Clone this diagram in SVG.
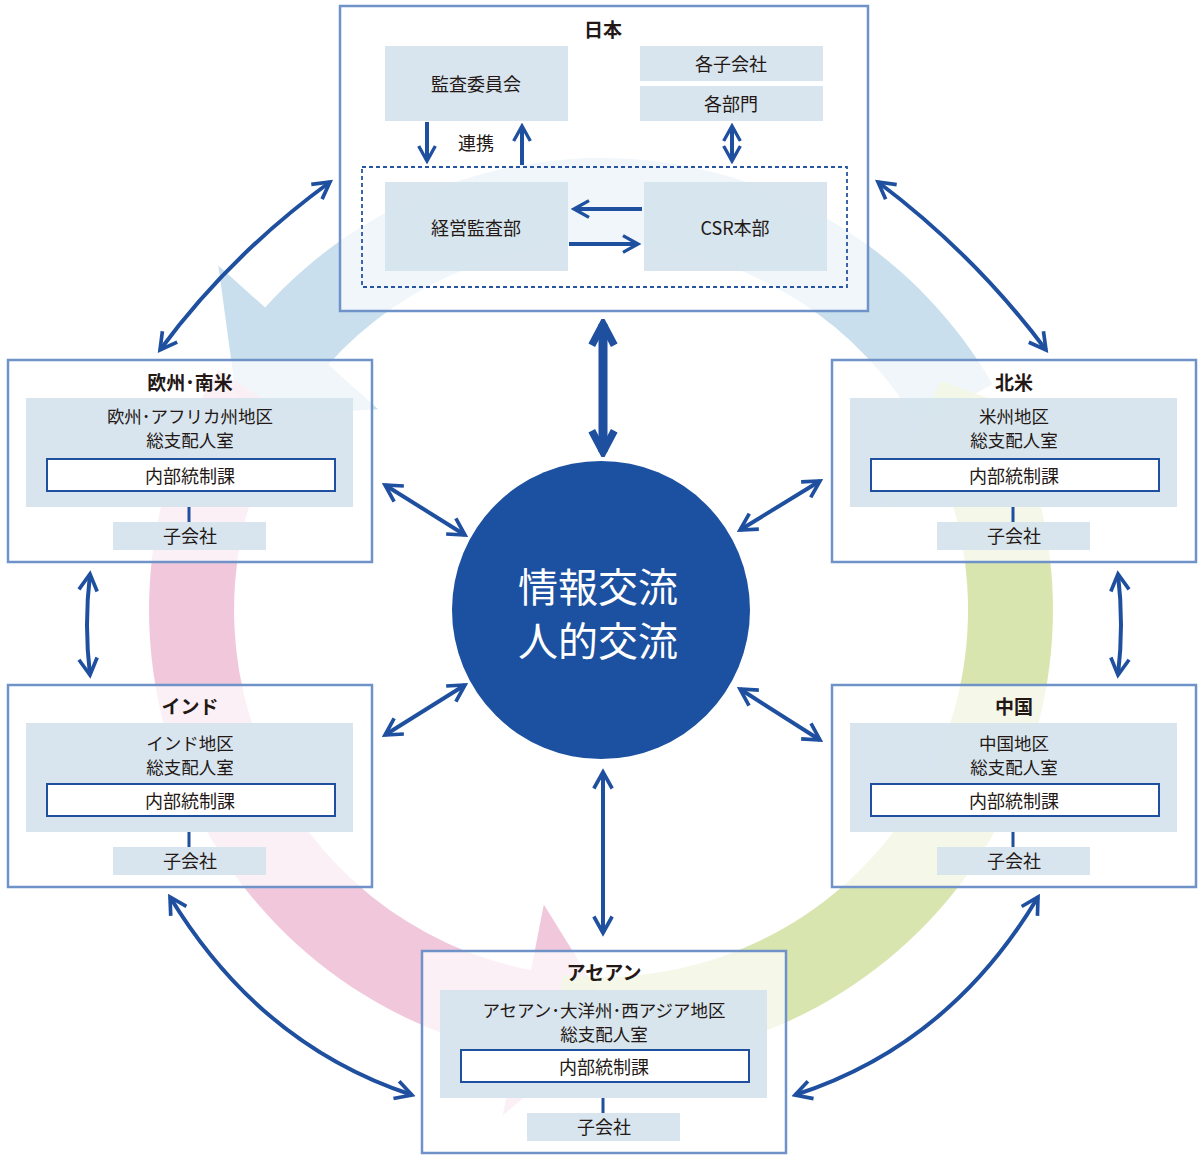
<svg xmlns="http://www.w3.org/2000/svg" width="1200" height="1156" viewBox="0 0 1200 1156">
<defs>
<style>
text{font-family:"Noto Sans CJK JP","Noto Sans",sans-serif;fill:#231815;text-anchor:middle;dominant-baseline:central}
.t{font-size:19px;font-weight:bold}
.b{font-size:18px}
.b2{font-size:17.5px}
.frame{fill:#ffffff;fill-opacity:0.72;stroke:#6f93c8;stroke-width:2.5}
.gray{fill:#d5e3ed;fill-opacity:0.92}
.wb{fill:#fff;stroke:#1f4f9f;stroke-width:2}
.con{fill:none;stroke:#1f4f9f;stroke-width:4}
</style>
<marker id="ah" viewBox="0 0 12 12" refX="10" refY="6" markerWidth="22" markerHeight="22" markerUnits="userSpaceOnUse" orient="auto-start-reverse"><path d="M1,1 L10,6 L1,11" fill="none" stroke="#1f4f9f" stroke-width="2"/></marker>
<marker id="ahb" viewBox="0 0 12 12" refX="10" refY="6" markerWidth="30" markerHeight="30" markerUnits="userSpaceOnUse" orient="auto-start-reverse"><path d="M1.5,1.5 L10,6 L1.5,10.5" fill="none" stroke="#1f4f9f" stroke-width="3"/></marker>
<marker id="ahs" viewBox="0 0 12 12" refX="10" refY="6" markerWidth="20" markerHeight="20" markerUnits="userSpaceOnUse" orient="auto-start-reverse"><path d="M1,1 L10,6 L1,11" fill="none" stroke="#1f4f9f" stroke-width="2"/></marker>
</defs>
<rect width="1200" height="1156" fill="#fff"/>
<g id="ring" fill-opacity="0.9">
<path fill="#c3dbeb" d="M992.4,384 A452,452 0 0 0 265.1,307.6 L218.3,265.4 L239,417.5 L378.1,409.3 L328.3,364.4 A367,367 0 0 1 918.8,426.5 Z"/>
<path fill="#f0c2d7" d="M217.7,370.5 A452,452 0 0 0 514.8,1053.7 L502.7,1115.5 L615.3,1019.8 L543.8,904.5 L531,970.2 A367,367 0 0 1 289.8,415.5 Z"/>
<path fill="#d5e2a6" d="M553.8,1059.5 A452,452 0 0 0 1025.7,455.4 L1084.9,433.9 L940.9,380.7 L882.9,507.4 L945.9,484.5 A367,367 0 0 1 562.6,975 Z"/>
</g>
<g id="japan">
<rect class="frame" x="340" y="6" width="528" height="305"/>
<text class="t" x="603" y="28">日本</text>
<rect class="gray" x="385" y="46" width="183" height="75"/><text class="b" x="476" y="83">監査委員会</text>
<rect class="gray" x="640" y="46" width="183" height="35"/><text class="b" x="731" y="63">各子会社</text>
<rect class="gray" x="640" y="86" width="183" height="35"/><text class="b" x="731" y="103">各部門</text>
<text class="b" x="476" y="142">連携</text>
<rect x="362" y="167" width="485" height="120" fill="none" stroke="#2855a0" stroke-width="1.8" stroke-dasharray="4,3"/>
<rect class="gray" x="385" y="182" width="183" height="89"/><text class="b" x="476" y="227">経営監査部</text>
<rect class="gray" x="644" y="182" width="183" height="89"/><text class="b" x="735" y="227">CSR本部</text>
</g>
<g id="europe">
<rect class="frame" x="8" y="360" width="364" height="202"/>
<text class="t" x="190" y="381">欧州･南米</text>
<rect class="gray" x="26" y="398" width="327" height="109"/>
<text class="b2" x="190" y="415">欧州･アフリカ州地区</text><text class="b2" x="190" y="439">総支配人室</text>
<rect class="wb" x="47" y="459" width="288" height="32"/><text class="b" x="190" y="475">内部統制課</text>
<line x1="189" y1="507" x2="189" y2="522" stroke="#1f4f9f" stroke-width="3"/>
<rect class="gray" x="113" y="522" width="153" height="28"/><text class="b" x="190" y="535">子会社</text>
</g>
<g id="namerica">
<rect class="frame" x="832" y="360" width="364" height="202"/>
<text class="t" x="1014" y="381">北米</text>
<rect class="gray" x="850" y="398" width="327" height="109"/>
<text class="b2" x="1014" y="415">米州地区</text><text class="b2" x="1014" y="439">総支配人室</text>
<rect class="wb" x="871" y="459" width="288" height="32"/><text class="b" x="1014" y="475">内部統制課</text>
<line x1="1013" y1="507" x2="1013" y2="522" stroke="#1f4f9f" stroke-width="3"/>
<rect class="gray" x="937" y="522" width="153" height="28"/><text class="b" x="1014" y="535">子会社</text>
</g>
<g id="india">
<rect class="frame" x="8" y="685" width="364" height="202"/>
<text class="t" x="190" y="705">インド</text>
<rect class="gray" x="26" y="723" width="327" height="109"/>
<text class="b2" x="190" y="742">インド地区</text><text class="b2" x="190" y="766">総支配人室</text>
<rect class="wb" x="47" y="784" width="288" height="32"/><text class="b" x="190" y="800">内部統制課</text>
<line x1="189" y1="832" x2="189" y2="847" stroke="#1f4f9f" stroke-width="3"/>
<rect class="gray" x="113" y="847" width="153" height="28"/><text class="b" x="190" y="860">子会社</text>
</g>
<g id="china">
<rect class="frame" x="832" y="685" width="364" height="202"/>
<text class="t" x="1014" y="705">中国</text>
<rect class="gray" x="850" y="723" width="327" height="109"/>
<text class="b2" x="1014" y="742">中国地区</text><text class="b2" x="1014" y="766">総支配人室</text>
<rect class="wb" x="871" y="784" width="288" height="32"/><text class="b" x="1014" y="800">内部統制課</text>
<line x1="1013" y1="832" x2="1013" y2="847" stroke="#1f4f9f" stroke-width="3"/>
<rect class="gray" x="937" y="847" width="153" height="28"/><text class="b" x="1014" y="860">子会社</text>
</g>
<g id="asean">
<rect class="frame" x="422" y="951" width="364" height="202"/>
<text class="t" x="604" y="971">アセアン</text>
<rect class="gray" x="440" y="990" width="327" height="108"/>
<text class="b2" x="604" y="1009">アセアン･大洋州･西アジア地区</text><text class="b2" x="604" y="1033">総支配人室</text>
<rect class="wb" x="461" y="1050" width="288" height="32"/><text class="b" x="604" y="1066">内部統制課</text>
<line x1="603" y1="1098" x2="603" y2="1113" stroke="#1f4f9f" stroke-width="3"/>
<rect class="gray" x="527" y="1113" width="153" height="28"/><text class="b" x="604" y="1126">子会社</text>
</g>
<g id="center">
<circle cx="601" cy="610" r="149" fill="#1c50a0"/>
<text x="598" y="585" style="fill:#fff;font-size:40px">情報交流</text>
<text x="598" y="639" style="fill:#fff;font-size:40px">人的交流</text>
</g>
<g id="connectors">
<line class="con" x1="427" y1="122" x2="427" y2="161" marker-end="url(#ahs)"/>
<line class="con" x1="522" y1="165" x2="522" y2="126" marker-end="url(#ahs)"/>
<line class="con" x1="732" y1="126" x2="732" y2="161" marker-start="url(#ahs)" marker-end="url(#ahs)"/>
<line class="con" x1="642" y1="209" x2="574" y2="209" marker-end="url(#ahs)"/>
<line class="con" x1="569" y1="244" x2="638" y2="244" marker-end="url(#ahs)"/>
<line x1="603" y1="324" x2="603" y2="452" fill="none" stroke="#1f4f9f" stroke-width="9" marker-start="url(#ahb)" marker-end="url(#ahb)"/>
<line class="con" x1="603" y1="772" x2="603" y2="933" marker-start="url(#ah)" marker-end="url(#ah)"/>
<line class="con" x1="385" y1="485" x2="465" y2="535" marker-start="url(#ah)" marker-end="url(#ah)"/>
<line class="con" x1="820" y1="481" x2="740" y2="530" marker-start="url(#ah)" marker-end="url(#ah)"/>
<line class="con" x1="385" y1="735" x2="465" y2="685" marker-start="url(#ah)" marker-end="url(#ah)"/>
<line class="con" x1="820" y1="740" x2="740" y2="689" marker-start="url(#ah)" marker-end="url(#ah)"/>
<path class="con" d="M90,574 Q84,625 90,675" marker-start="url(#ah)" marker-end="url(#ah)"/>
<path class="con" d="M1118,574 Q1124,625 1118,675" marker-start="url(#ah)" marker-end="url(#ah)"/>
<path class="con" d="M330,182 Q230,255 160,350" marker-start="url(#ah)" marker-end="url(#ah)"/>
<path class="con" d="M878,182 Q975,255 1046,350" marker-start="url(#ah)" marker-end="url(#ah)"/>
<path class="con" d="M170,897 Q260,1045 412,1095" marker-start="url(#ah)" marker-end="url(#ah)"/>
<path class="con" d="M1038,897 Q950,1045 795,1095" marker-start="url(#ah)" marker-end="url(#ah)"/>
</g>
</svg>
